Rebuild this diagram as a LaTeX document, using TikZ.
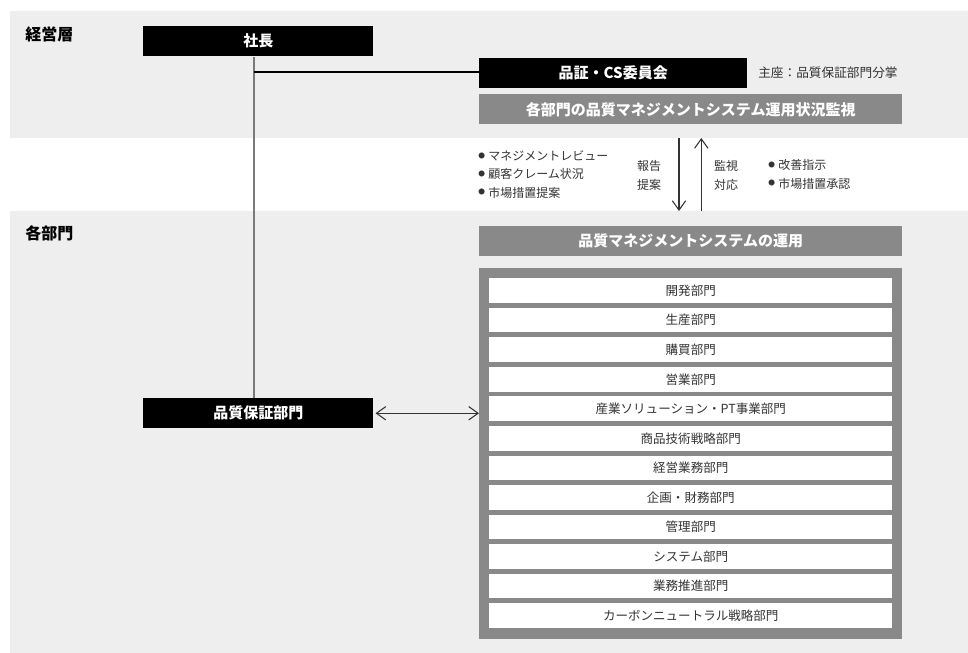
\documentclass[tikz,border=0pt]{standalone}
\usepackage{fontspec}
\setmainfont{Noto Sans CJK JP}
\usetikzlibrary{arrows.meta}
\definecolor{band}{HTML}{EEEEEE}
\definecolor{midgray}{HTML}{898989}
\definecolor{txt}{HTML}{333333}
\definecolor{linegray}{HTML}{7A7A7A}
\newcommand{\blt}{\raisebox{1.6pt}{\fontsize{5}{5}\selectfont ●}\hspace{2.5pt}}
\tikzset{
  blackbox/.style={fill=black, text=white, font=\fontsize{11.25}{12}\selectfont\bfseries, inner sep=0pt, anchor=north west, minimum width=172.5pt, minimum height=22.5pt},
  graybox/.style={fill=midgray, text=white, font=\fontsize{11.25}{12}\selectfont\bfseries, inner sep=0pt, anchor=north west, minimum width=317.25pt, minimum height=22.5pt},
  itembox/.style={fill=white, text=txt, font=\fontsize{9.4}{11}\selectfont, inner sep=0pt, anchor=north west, minimum width=302.25pt, minimum height=18.5pt},
  layerlabel/.style={font=\fontsize{12}{13}\selectfont\bfseries, anchor=west, inner sep=0pt},
  smalltxt/.style={font=\fontsize{9}{10}\selectfont, text=txt, inner sep=0pt},
  barb/.style={line width=0.8pt, draw=txt, -{Straight Barb[length=7pt,width=10pt]}},
}
\begin{document}
\begin{tikzpicture}[x=0.75pt, y=-0.75pt]
\useasboundingbox (0,0) rectangle (968,653);
% bands
\fill[band] (10,11) rectangle (968,138);
\fill[band] (10,211) rectangle (968,653);
% layer labels
\node[layerlabel] (lmgmt) at (25,34.3) {経営層};
\node[layerlabel] (ldept) at (25,233.3) {各部門};
% top boxes
\node[blackbox] (pres) at (143,26) {社長};
\node[blackbox, minimum width=201pt] (comm) at (479,57.3) {品証・CS委員会};
\node[anchor=west, inner sep=0pt, font=\fontsize{9.5}{11}\selectfont, text=txt] (chair) at (758,72.3) {主座：品質保証部門分掌};
\node[graybox] (monitor) at (479,94) {各部門の品質マネジメントシステム運用状況監視};
% middle labels
\node[smalltxt, anchor=west] (b1) at (478,155.5) {\blt マネジメントレビュー};
\node[smalltxt, anchor=west] (b2) at (478,174) {\blt 顧客クレーム状況};
\node[smalltxt, anchor=west] (b3) at (478,192.5) {\blt 市場措置提案};
\node[smalltxt] (r1) at (649,166) {報告};
\node[smalltxt] (r2) at (649,185) {提案};
\node[smalltxt] (k1) at (726,166) {監視};
\node[smalltxt] (k2) at (726,185) {対応};
\node[smalltxt, anchor=west] (c1) at (768,165) {\blt 改善指示};
\node[smalltxt, anchor=west] (c2) at (768,183.5) {\blt 市場措置承認};
\coordinate (dtop) at (679,138);
\coordinate (dbot) at (679,211);
\coordinate (utop) at (701.3,138);
\coordinate (ubot) at (701.3,211);
\draw[barb] (dtop) -- (dbot);
\draw[barb] (ubot) -- (utop);
% department area
\node[graybox] (qms) at (479,226) {品質マネジメントシステムの運用};
\node[fill=midgray, inner sep=0pt, anchor=north west, minimum width=317.25pt, minimum height=278.25pt] (cont) at (479,267.3) {};
\foreach \t [count=\i from 0] in {開発部門,生産部門,購買部門,営業部門,産業ソリューション・PT事業部門,商品技術戦略部門,経営業務部門,企画・財務部門,管理部門,システム部門,業務推進部門,カーボンニュートラル戦略部門}{
  \node[itembox] (d\i) at (489,{278+\i*29.55}) {\t};
}
\node[blackbox] (qa) at (143,398) {品質保証部門};
% connectors
\draw[linegray, line width=1pt] (pres.south -| 254,0) -- (qa.north -| 254,0);
\coordinate (junc) at (254,72);
\draw[black, line width=0.8pt] (junc -| 254,0) -- (junc -| comm.west);
\draw[line width=0.8pt, draw=txt, {Straight Barb[length=7pt,width=10pt]}-{Straight Barb[length=7pt,width=10pt]}] ([xshift=1.5pt]qa.east) -- (qa.east -| cont.west);
\end{tikzpicture}
\end{document}
